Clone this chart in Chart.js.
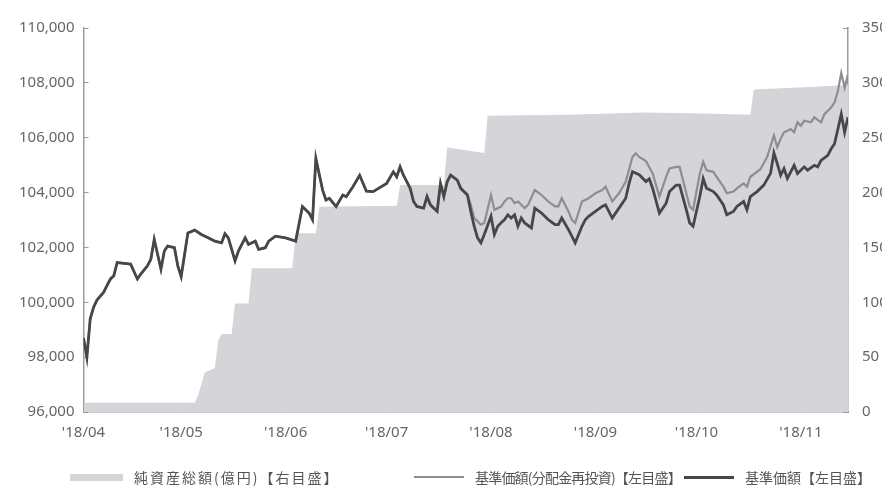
<!DOCTYPE html>
<html>
<head>
<meta charset="utf-8">
<script src="https://cdn.jsdelivr.net/npm/chart.js@4.4.1/dist/chart.umd.min.js"></script>
<style>
  html, body { margin: 0; padding: 0; background: #ffffff; }
  #wrap { position: relative; width: 882px; height: 493px; overflow: hidden; }
  #c { position: absolute; left: 0; top: 0; }
  #legend { position: absolute; left: 0; top: 467px; width: 882px; height: 20px;
            font-family: 'Noto Sans CJK JP', 'Noto Sans', sans-serif; font-size: 14px; color: #555; }
  .item { position: absolute; top: 0; height: 20px; display: flex; align-items: center; white-space: nowrap; }
  .item:nth-child(1) { left: 70px; letter-spacing: 2px; }
  .item:nth-child(2) { left: 414px; letter-spacing: -0.8px; }
  .item:nth-child(3) { left: 684px; }
  .sw { display: inline-block; margin-right: 11px; }
</style>
</head>
<body>
<div id="wrap">
  <canvas id="c" width="882" height="493"></canvas>
  <div id="legend"></div>
</div>
<script>
const YEAR = 2018;

// Series labels (legend)
const seriesLabels = ['純資産総額(億円)【右目盛】', '基準価額(分配金再投資)【左目盛】', '基準価額【左目盛】'];

// X-axis tick dates and labels
const tickDates  = ['04-02', '05-01', '06-01', '07-01', '08-01', '09-01', '10-01', '11-01'];
const tickLabels = ["'18/04", "'18/05", "'18/06", "'18/07", "'18/08", "'18/09", "'18/10", "'18/11"];

// Y-axis ticks
const leftTicks  = [96000, 98000, 100000, 102000, 104000, 106000, 108000, 110000];
const rightTicks = [0, 50, 100, 150, 200, 250, 300, 350];

// NAV — period where both NAV lines coincide (before the first distribution)
const sharedDates = ['04-02','04-03','04-04','04-05','04-06','04-08','04-09','04-10','04-11','04-12',
  '04-14','04-16','04-18','04-19','04-21','04-22','04-23','04-24','04-25','04-26',
  '04-27','04-29','04-30','05-01','05-03','05-05','05-07','05-09','05-11','05-13',
  '05-14','05-15','05-17','05-18','05-20','05-21','05-23','05-24','05-26','05-27',
  '05-29','06-01','06-04','06-06','06-08','06-09','06-10','06-12','06-13','06-14',
  '06-16','06-18','06-19','06-21','06-23','06-25','06-27','07-01','07-03','07-04',
  '07-05','07-06','07-08','07-09','07-10','07-12','07-13','07-14','07-16','07-17',
  '07-18','07-19','07-20','07-22','07-23','07-25'];
const sharedValues = [98700,98000,99400,99820,100080,100370,100620,100850,100970,101450,
  101420,101390,100850,101030,101330,101570,102290,101750,101210,101870,
  102050,101990,101330,100940,102530,102630,102470,102350,102230,102170,
  102500,102350,101510,101870,102350,102110,102230,101930,101990,102230,
  102410,102350,102230,103490,103250,103010,105240,104090,103730,103790,
  103490,103910,103850,104215,104630,104050,104035,104335,104757,104576,
  104937,104634,104154,103674,103494,103432,103855,103552,103314,104335,
  103855,104396,104634,104454,104154,103912];

// 基準価額 after the split
const navDates = ['07-26','07-27','07-28','07-29','07-30','08-01','08-02','08-03','08-04','08-05',
  '08-06','08-07','08-08','08-09','08-10','08-11','08-13','08-14','08-16','08-18',
  '08-20','08-21','08-22','08-24','08-25','08-26','08-28','08-29','08-30','09-01',
  '09-03','09-04','09-06','09-08','09-10','09-11','09-12','09-14','09-16','09-17',
  '09-18','09-20','09-22','09-23','09-25','09-26','09-28','09-29','09-30','10-02',
  '10-03','10-04','10-06','10-07','10-09','10-10','10-12','10-13','10-15','10-16',
  '10-17','10-19','10-21','10-23','10-24','10-25','10-26','10-27','10-28','10-30',
  '10-31','11-02','11-03','11-05','11-06','11-07','11-09','11-10','11-11','11-12',
  '11-13','11-14','11-15'];
const navValues = [103314,102772,102350,102170,102469,103133,102469,102772,102900,103010,
  103190,103072,103191,102772,103072,102891,102711,103432,103252,103010,
  102830,102830,103072,102650,102411,102170,102772,103010,103133,103313,
  103494,103552,103072,103432,103793,104335,104760,104650,104400,104500,
  104150,103252,103613,104035,104273,104273,103371,102891,102772,103855,
  104515,104154,104035,103912,103552,103191,103313,103494,103674,103371,
  103855,104035,104273,104700,105450,105057,104634,104876,104515,104995,
  104696,104937,104815,104995,104937,105175,105356,105597,105778,106319,
  106860,106200,106750];

// 基準価額(分配金再投資) after the split
const reinvDates = ['07-26','07-27','07-29','07-30','08-01','08-02','08-04','08-05','08-06','08-07',
  '08-08','08-09','08-11','08-12','08-14','08-16','08-18','08-20','08-21','08-22',
  '08-24','08-25','08-26','08-28','08-30','09-01','09-03','09-04','09-06','09-08',
  '09-10','09-12','09-13','09-14','09-16','09-18','09-20','09-22','09-23','09-25',
  '09-26','09-28','09-29','09-30','10-02','10-03','10-04','10-06','10-07','10-09',
  '10-10','10-12','10-13','10-15','10-16','10-17','10-20','10-22','10-24','10-25',
  '10-26','10-27','10-28','10-29','10-30','10-31','11-01','11-02','11-04','11-05',
  '11-07','11-08','11-10','11-11','11-12','11-13','11-14','11-15'];
const reinvValues = [103550,103072,102830,102891,103912,103371,103490,103674,103793,103793,
  103613,103674,103432,103552,104093,103912,103674,103494,103494,103793,
  103313,103010,102891,103674,103793,103974,104093,104215,103674,103974,
  104396,105300,105430,105300,105150,104700,103855,104576,104876,104937,
  104937,103974,103494,103371,104696,105118,104815,104757,104576,104215,
  103974,104035,104154,104335,104215,104576,104850,105300,106077,105659,
  105958,106200,106257,106319,106200,106560,106438,106618,106560,106740,
  106560,106860,107102,107282,107700,108364,107823,108303];

// 純資産総額 (億円)
const assetDates  = ['04-02','05-05','05-06','05-07','05-08','05-11','05-12','05-13','05-16','05-17',
  '05-21','05-22','06-03','06-04','06-10','06-11','07-04','07-05','07-18','07-19',
  '07-30','07-31','08-24','09-15','10-03','10-17','10-18','11-02','11-15'];
const assetValues = [8.5,8.5,15,25,36,40,65,71,71,99,
  99,131,131,163,163,187,188,207,207,241,
  236,270,271,273,272,271,294,296,298];

const dayOf = s => {
  const [m, d] = s.split('-').map(Number);
  return Math.round((Date.UTC(YEAR, m - 1, d) - Date.UTC(YEAR, 3, 1)) / 864e5);
};
const toPoints = (dates, values) => dates.map((d, i) => ({ x: dayOf(d), y: values[i] }));

const tickFont = { family: "'Noto Sans', sans-serif", size: 15 };
const tickColor = '#666';
const axisColor = '#9c9c9c';

const chart = new Chart(document.getElementById('c'), {
  type: 'line',
  data: {
    datasets: [
      {
        label: seriesLabels[0],
        data: toPoints(assetDates, assetValues),
        yAxisID: 'yR',
        fill: 'origin',
        backgroundColor: '#d4d4d9',
        borderColor: 'rgba(0,0,0,0)',
        borderWidth: 0,
        pointRadius: 0,
        tension: 0,
        order: 3
      },
      {
        label: seriesLabels[1],
        data: toPoints([...sharedDates, ...reinvDates], [...sharedValues, ...reinvValues]),
        yAxisID: 'y',
        fill: false,
        borderColor: '#8e8e8e',
        borderWidth: 2.2,
        pointRadius: 0,
        tension: 0,
        order: 2
      },
      {
        label: seriesLabels[2],
        data: toPoints([...sharedDates, ...navDates], [...sharedValues, ...navValues]),
        yAxisID: 'y',
        fill: false,
        borderColor: '#474747',
        borderWidth: 2.8,
        pointRadius: 0,
        tension: 0,
        order: 1
      }
    ]
  },
  options: {
    responsive: false,
    animation: false,
    layout: { padding: { top: 22, left: 0, right: 0, bottom: 46 } },
    plugins: { legend: { display: false }, tooltip: { enabled: false } },
    scales: {
      x: {
        type: 'linear',
        min: dayOf(sharedDates[0]),
        max: dayOf(navDates[navDates.length - 1]),
        afterBuildTicks: s => { s.ticks = tickDates.map(d => ({ value: dayOf(d) })); },
        afterFit: s => { s.height = 35; },
        ticks: {
          autoSkip: false, maxRotation: 0, padding: 17,
          font: tickFont, color: tickColor,
          callback: (v, i) => tickLabels[i]
        },
        grid: { drawOnChartArea: false, tickLength: -5, color: axisColor, lineWidth: 1 },
        border: { color: axisColor, width: 1.5 }
      },
      y: {
        position: 'left',
        min: leftTicks[0], max: leftTicks[leftTicks.length - 1],
        afterBuildTicks: s => { s.ticks = leftTicks.map(v => ({ value: v })); },
        afterFit: s => { s.width = 83.5; },
        ticks: {
          padding: 14, font: tickFont, color: tickColor,
          callback: v => Number(v).toLocaleString('en-US')
        },
        grid: { drawOnChartArea: false, tickLength: -5, color: axisColor, lineWidth: 1 },
        border: { color: axisColor, width: 1.5 }
      },
      yR: {
        position: 'right',
        min: rightTicks[0], max: rightTicks[rightTicks.length - 1],
        afterBuildTicks: s => { s.ticks = rightTicks.map(v => ({ value: v })); },
        afterFit: s => { s.width = 34; },
        ticks: { padding: 19, font: tickFont, color: tickColor, callback: v => String(v) },
        grid: { drawOnChartArea: false, tickLength: -5, color: axisColor, lineWidth: 1 },
        border: { color: axisColor, width: 1.5 }
      }
    }
  }
});

// HTML legend built from the chart's datasets
const legendEl = document.getElementById('legend');
chart.data.datasets.forEach((ds, i) => {
  const item = document.createElement('div');
  item.className = 'item';
  const sw = document.createElement('span');
  sw.className = 'sw';
  if (ds.fill === 'origin') {
    sw.style.width = '53px'; sw.style.height = '7px'; sw.style.background = ds.backgroundColor;
  } else {
    sw.style.width = '50px'; sw.style.height = Math.round(ds.borderWidth) + 'px'; sw.style.background = ds.borderColor;
  }
  const tx = document.createElement('span');
  tx.textContent = ds.label;
  item.appendChild(sw); item.appendChild(tx);
  legendEl.appendChild(item);
});
</script>
</body>
</html>
